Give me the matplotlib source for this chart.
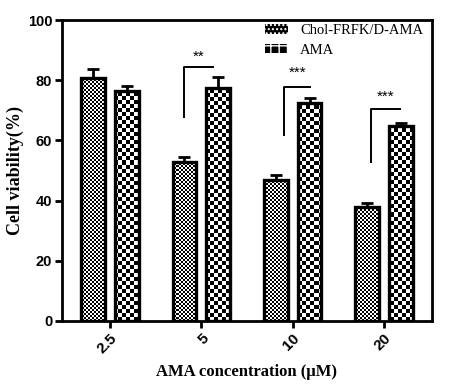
import numpy as np
import matplotlib
matplotlib.use("Agg")
from matplotlib import pyplot as plt
from matplotlib.patches import Rectangle

# data
conc_labels = ["2.5", "5", "10", "20"]
chol_mean = [80.6, 52.7, 46.7, 37.8]
chol_err = [3.2, 1.8, 1.8, 1.3]
ama_mean = [76.5, 77.3, 72.3, 64.8]
ama_err = [1.6, 3.9, 1.7, 0.9]
series_names = ["Chol-FRFK/D-AMA", "AMA"]

# significance brackets: group, vertical line low/high, horizontal end, label
sig_groups = [1, 2, 3]
sig_low = [67.9, 61.8, 52.7]
sig_high = [84.5, 77.6, 70.4]
sig_x0 = [-0.19, -0.09, -0.14]
sig_x1 = [0.13, 0.19, 0.18]
sig_text = ["**", "***", "***"]
sig_text_y = [87.7, 82.4, 74.4]

SANS = "Liberation Sans"
SERIF = "Liberation Serif"

plt.rcParams["hatch.linewidth"] = 1.0
fig = plt.figure(figsize=(4.6, 3.86), dpi=100)
ax = fig.add_axes([62 / 460, 65 / 386, 370 / 460, 301 / 386])

x = np.arange(len(conc_labels))
w = 0.26
off = 0.185
xlim = (-0.525, 3.525)
ylim = (0, 100)
ax.set_xlim(*xlim)
ax.set_ylim(*ylim)


def checker(cell):
    # checkerboard in screen pixels covering the axes
    nx, ny = int(370 / cell) + 1, int(301 / cell) + 1
    yy, xx = np.mgrid[0:ny, 0:nx]
    return ((xx + yy) % 2).astype(float)


b1 = ax.bar(x - off, chol_mean, w, color="white", edgecolor="none", zorder=2)
b2 = ax.bar(x + off, ama_mean, w, color="white", edgecolor="none", zorder=2)

for bars, cell in [(b1, 2), (b2, 4)]:
    img = checker(cell)
    nx, ny = img.shape[1], img.shape[0]
    ext = (xlim[0], xlim[0] + (xlim[1] - xlim[0]) * nx * cell / 370,
           ylim[0], ylim[0] + (ylim[1] - ylim[0]) * ny * cell / 301)
    for b in bars:
        im = ax.imshow(img, cmap="gray", extent=ext, aspect="auto",
                       interpolation="nearest", origin="lower", zorder=3)
        im.set_clip_path(b)
ax.set_xlim(*xlim)
ax.set_ylim(*ylim)
# outlines on top
for bars in (b1, b2):
    for b in bars:
        ax.add_patch(Rectangle((b.get_x(), 0), b.get_width(), b.get_height(),
                               fill=False, edgecolor="black", linewidth=2.4, zorder=4))

ax.errorbar(x - off, chol_mean, yerr=[np.zeros(4), chol_err], fmt="none",
            ecolor="black", elinewidth=2, capsize=4.3, capthick=2, zorder=5)
ax.errorbar(x + off, ama_mean, yerr=[np.zeros(4), ama_err], fmt="none",
            ecolor="black", elinewidth=2, capsize=4.3, capthick=2, zorder=5)

for g, lo, hi, x0, x1, t, ty in zip(sig_groups, sig_low, sig_high, sig_x0, sig_x1, sig_text, sig_text_y):
    ax.plot([g + x0, g + x0, g + x1], [lo, hi, hi], color="black", lw=1.4, zorder=5)
    ax.text(g + (x0 + x1) / 2, ty, t, ha="center", va="center", fontsize=11,
            family=SANS, zorder=5)

# legend: black swatches with a small white pattern
h1 = Rectangle((0, 0), 1, 1, facecolor="black", edgecolor="white", hatch="....", linewidth=0)
h2 = Rectangle((0, 0), 1, 1, facecolor="black", edgecolor="white", hatch="++", linewidth=0)
ax.legend([h1, h2], series_names, loc="upper left", bbox_to_anchor=(0.513, 1.03),
          frameon=False, prop={"family": SERIF, "size": 10.5}, handlelength=1.6,
          handleheight=0.6, labelspacing=0.45, handletextpad=0.8)

for s in ax.spines.values():
    s.set_linewidth(2)
ax.tick_params(axis="both", width=2, length=5, direction="out", pad=2)
ax.set_yticks([0, 20, 40, 60, 80, 100])
ax.set_yticklabels(["0", "20", "40", "60", "80", "100"], family=SANS,
                   fontweight="bold", fontsize=10.5)
ax.set_xticks(x)
ax.set_xticklabels(conc_labels, family=SANS, fontweight="bold", fontsize=11,
                   rotation=45, ha="right", rotation_mode="anchor")

ax.set_xlabel("AMA concentration (\u03bcM)", family=SERIF, fontweight="bold",
              fontsize=12, labelpad=6)
ax.set_ylabel("Cell viability(%)", family=SERIF, fontweight="bold", fontsize=13)
ax.yaxis.label.set_va("center")
ax.yaxis.set_label_coords(-47 / 370, 0.5)

fig.savefig("out.png", dpi=100)
